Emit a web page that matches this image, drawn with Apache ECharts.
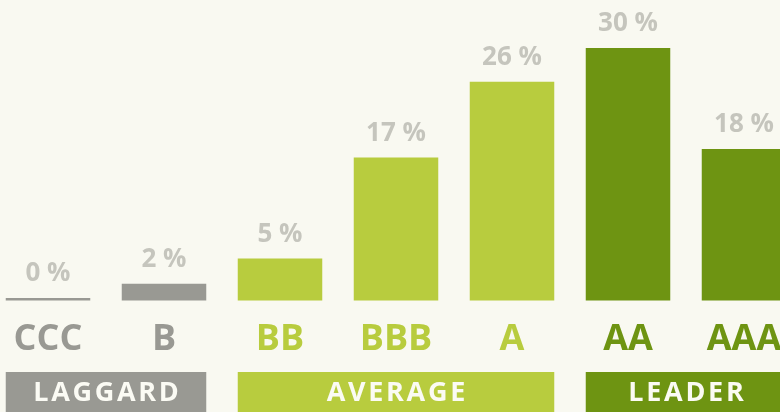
<!DOCTYPE html>
<html>
<head>
<meta charset="utf-8">
<style>
  html, body { margin: 0; padding: 0; background: #f9f9f1; }
  #chart { width: 780px; height: 412px; }
</style>
<script src="https://cdn.jsdelivr.net/npm/echarts@6/dist/echarts.min.js"></script>
</head>
<body>
<div id="chart"></div>
<script>
// ratings and share of companies in each
const ratings = ['CCC', 'B', 'BB', 'BBB', 'A', 'AA', 'AAA'];
const shares = [0, 2, 5, 17, 26, 30, 18];

// groups spanning rating indexes
const groupNames = ['LAGGARD', 'AVERAGE', 'LEADER'];
const groupStart = [0, 2, 5];
const groupEnd = [1, 4, 6];

const groupColors = ['#999993', '#b8cc3e', '#6e9412'];
const FONT = '"Open Sans", sans-serif';
const BAR_W = 84.5;

function groupOf (idx) {
  for (let g = 0; g < groupNames.length; g++) {
    if (idx >= groupStart[g] && idx <= groupEnd[g]) return g;
  }
  return 0;
}

const chart = echarts.init(document.getElementById('chart'), null, { renderer: 'canvas' });

const option = {
  backgroundColor: '#f9f9f1',
  animation: false,
  grid: [
    { left: -10, right: -22, top: 48, bottom: 111.5, outerBoundsMode: 'none' },
    { left: -10, right: -22, top: 372, bottom: -4, outerBoundsMode: 'none' }
  ],
  xAxis: [
    {
      type: 'category',
      gridIndex: 0,
      data: ratings,
      axisLine: { show: false },
      axisTick: { show: false },
      axisLabel: {
        margin: 21,
        fontFamily: FONT,
        fontSize: 36,
        fontWeight: 'bold',
        color: function (value, index) {
          return groupColors[groupOf(ratings.indexOf(value))];
        }
      }
    },
    {
      type: 'category',
      gridIndex: 1,
      data: ratings,
      show: false
    }
  ],
  yAxis: [
    { type: 'value', gridIndex: 0, min: 0, max: 30, show: false },
    { type: 'value', gridIndex: 1, min: 0, max: 1, show: false }
  ],
  series: [
    {
      type: 'bar',
      xAxisIndex: 0,
      yAxisIndex: 0,
      barWidth: BAR_W,
      barMinHeight: 2.5,
      data: shares.map(function (v, i) {
        return { value: v, itemStyle: { color: groupColors[groupOf(i)] } };
      }),
      label: {
        show: true,
        position: 'top',
        distance: 11,
        formatter: '{c} %',
        fontFamily: FONT,
        fontSize: 26,
        fontWeight: 'bold',
        color: '#c5c5bd'
      }
    },
    {
      type: 'custom',
      xAxisIndex: 1,
      yAxisIndex: 1,
      data: groupNames.map(function (n, g) { return [groupStart[g], groupEnd[g]]; }),
      renderItem: function (params, api) {
        const a = api.coord([api.value(0), 1]);
        const b = api.coord([api.value(1), 0]);
        const x0 = a[0] - BAR_W / 2;
        const x1 = b[0] + BAR_W / 2;
        const g = params.dataIndex;
        return {
          type: 'group',
          children: [
            {
              type: 'rect',
              shape: { x: x0, y: a[1], width: x1 - x0, height: b[1] - a[1] },
              style: { fill: groupColors[g] }
            },
            {
              type: 'text',
              x: (x0 + x1) / 2,
              y: a[1] + 21,
              style: {
                text: groupNames[g].split('').join('\u200a'),
                fill: '#fbfbf4',
                font: 'bold 27px ' + FONT,
                align: 'center',
                verticalAlign: 'middle'
              }
            }
          ]
        };
      }
    }
  ]
};

chart.setOption(option);
</script>
</body>
</html>
